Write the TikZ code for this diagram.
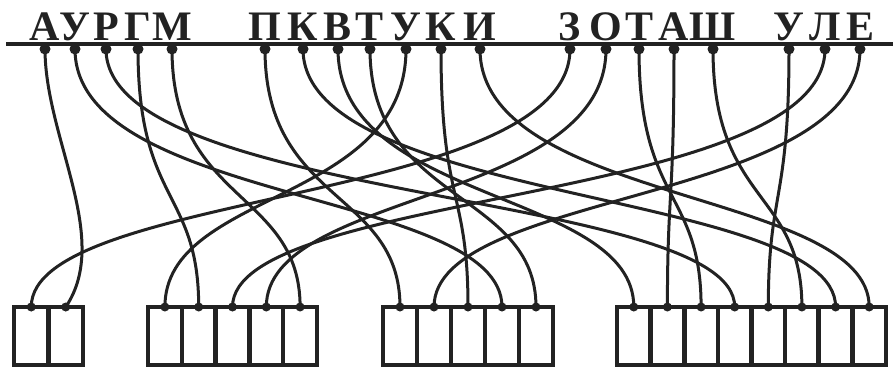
\documentclass[tikz,border=0pt]{standalone}
\usepackage{fontspec}
\setmainfont{Liberation Serif}
\definecolor{ink}{HTML}{222222}
\begin{document}
\begin{tikzpicture}[x=1pt,y=1pt,
  wire/.style={line width=3pt, draw=ink},
  dotmark/.style={circle, fill=ink, inner sep=0pt, minimum size=11pt},
  cell/.style={draw=ink, line width=4.5pt, minimum height=58pt, inner sep=0pt, outer sep=0pt},
  letter/.style={font=\bfseries\fontsize{42}{42}\selectfont, anchor=base, inner sep=0pt, text=ink},
  rail/.style={draw=ink, line width=4pt}]
\useasboundingbox (0,0) rectangle (893,368);
% top letters and dots
\foreach \x/\l [count=\i] in {45/А,75/У,106/Р,138/Г,172/М,265/П,303/К,338/В,370/Т,406/У,441/К,480/И,570/З,606/О,639/Т,674/А,713/Ш,789/У,825/Л,860/Е}{
  \node[letter] (l\i) at (\x,328) {\l};
  \coordinate (t\i) at (\x,319);
}
% bottom cells
\foreach \x/\w [count=\i] in {31.25/34.5,65.75/34.5,
  164.9/33.8,198.7/33.8,232.5/33.8,266.3/33.8,300.1/33.8,
  400/34,434/34,468/34,502/34,536/34,
  633.8/33.6,667.4/33.6,701.1/33.6,734.7/33.6,768.3/33.6,801.9/33.6,835.6/33.6,869.2/33.6}{
  \node[cell, minimum width=\w pt] (c\i) at (\x,32) {};
  \coordinate (b\i) at (c\i.north);
}
% wires
\draw[wire] (t1) .. controls (45,230) and (112,130) .. (b2);
\foreach \a/\b in {2/11,3/16,4/4,5/7,6/8,7/19,8/13,9/12,10/3,11/10,12/20,13/1,14/6,15/15,16/14,17/18,18/17,19/5,20/9}{
  \draw[wire] (t\a) .. controls +(0,-155) and +(0,117) .. (b\b);
}
% dots
\foreach \i in {1,...,20}{
  \node[dotmark] (td\i) at (t\i) {};
  \node[dotmark, minimum size=9pt] (bd\i) at (b\i) {};
}
\coordinate (railL) at (6,324);
\coordinate (railR) at (893,324);
\draw[rail] (railL) -- (railR);
\end{tikzpicture}
\end{document}
